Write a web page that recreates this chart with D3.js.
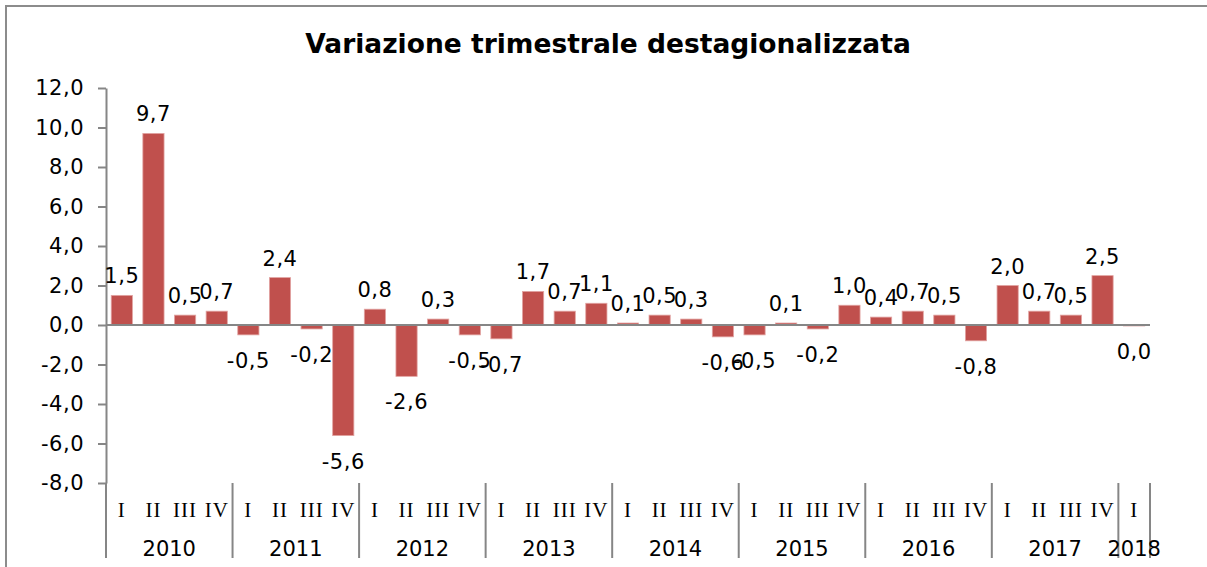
<!DOCTYPE html>
<html>
<head>
<meta charset="utf-8">
<script src="https://cdn.jsdelivr.net/npm/d3@7"></script>
<style>
    body { margin: 0; background: #fff; }
    svg text { fill: #000; }
</style>
</head>
<body>
<svg id="chart"></svg>
<script>
const years = ["2010", "2011", "2012", "2013", "2014", "2015", "2016", "2017", "2018"];
const quarters = ["I", "II", "III", "IV"];
const values = [
    1.5, 9.7, 0.5, 0.7,
    -0.5, 2.4, -0.2, -5.6,
    0.8, -2.6, 0.3, -0.5,
    -0.7, 1.7, 0.7, 1.1,
    0.1, 0.5, 0.3, -0.6,
    -0.5, 0.1, -0.2, 1.0,
    0.4, 0.7, 0.5, -0.8,
    2.0, 0.7, 0.5, 2.5,
    -0.049
];
const yTicks = [-8, -6, -4, -2, 0, 2, 4, 6, 8, 10, 12];

// one entry per quarter, only as many as there are values
const data = [];
years.forEach(y => quarters.forEach(q => {
    if (data.length < values.length) {
        data.push({ key: y + "-" + q, year: y, q: q, value: values[data.length] });
    }
}));

const fmt = v => {
    let s = Math.abs(v).toFixed(1);
    if (v < 0 && s !== "0.0") s = "-" + s;
    return s.replace(".", ",");
};

function drawChart() {
    const width = 1207, height = 567;
    const left = 106, right = 1150, top = 88, bottom = 483;
    const axisColor = "#868686";
    const numFont = "'DejaVu Sans', Verdana, sans-serif";

    const svg = d3.select("#chart").attr("width", width).attr("height", height);

    // outer frame
    svg.append("rect")
        .attr("x", 6).attr("y", 6)
        .attr("width", width + 20).attr("height", height + 20)
        .attr("fill", "none")
        .attr("stroke", "#8c8c8c")
        .attr("stroke-width", 2);

    svg.append("text")
        .attr("x", 608).attr("y", 53)
        .attr("text-anchor", "middle")
        .style("font-family", numFont)
        .style("font-weight", "bold")
        .style("font-size", "26.5px")
        .text("Variazione trimestrale destagionalizzata");

    const x = d3.scaleBand()
        .domain(data.map(d => d.key))
        .range([left, right])
        .paddingInner(0.33)
        .paddingOuter(0.165);

    const xCat = d3.scaleBand()
        .domain(data.map(d => d.key))
        .range([left, right]);

    const y = d3.scaleLinear()
        .domain([-8, 12])
        .range([bottom, top]);

    // bars
    svg.append("g").selectAll("rect")
        .data(data)
        .enter()
        .append("rect")
        .attr("x", d => x(d.key))
        .attr("y", d => y(Math.max(0, d.value)))
        .attr("width", x.bandwidth())
        .attr("height", d => Math.abs(y(d.value) - y(0)))
        .attr("fill", "#C0504D")
        .attr("stroke", "#e2a4a2")
        .attr("stroke-width", 0.8);

    // y axis
    const yAxis = svg.append("g")
        .attr("transform", `translate(${left},0)`)
        .call(d3.axisLeft(y).tickValues(yTicks).tickSize(8).tickSizeOuter(0).tickPadding(14)
            .tickFormat(d => fmt(d)));
    yAxis.select(".domain").attr("stroke", axisColor).attr("stroke-width", 2);
    yAxis.selectAll(".tick line").attr("stroke", axisColor).attr("stroke-width", 2);
    yAxis.selectAll(".tick text")
        .style("font-family", numFont)
        .style("font-size", "21px")
        .style("letter-spacing", "0.5px")
        .attr("fill", "#000");

    // zero line
    svg.append("line")
        .attr("x1", left).attr("x2", right)
        .attr("y1", y(0)).attr("y2", y(0))
        .attr("stroke", axisColor)
        .attr("stroke-width", 2);

    // value labels
    svg.append("g").selectAll("text")
        .data(data)
        .enter()
        .append("text")
        .attr("x", d => x(d.key) + x.bandwidth() / 2)
        .attr("y", d => d.value >= 0 ? y(d.value) - 12 : y(d.value) + 33)
        .attr("text-anchor", "middle")
        .style("font-family", numFont)
        .style("font-size", "21px")
        .style("letter-spacing", "0.5px")
        .text(d => fmt(d.value));

    // category axis: separators, quarters, years
    const catTop = bottom, catBottom = 558;
    const seps = years.filter(yr => data.some(d => d.year === yr))
        .map(yr => xCat(data.find(d => d.year === yr).key));
    seps.push(right);

    svg.append("g").selectAll("line")
        .data(seps)
        .enter()
        .append("line")
        .attr("x1", d => d).attr("x2", d => d)
        .attr("y1", catTop).attr("y2", catBottom)
        .attr("stroke", axisColor)
        .attr("stroke-width", 2);

    svg.append("g").selectAll("text")
        .data(data)
        .enter()
        .append("text")
        .attr("x", d => xCat(d.key) + xCat.bandwidth() / 2)
        .attr("y", 517)
        .attr("text-anchor", "middle")
        .style("font-family", "'Liberation Serif', 'Times New Roman', serif")
        .style("font-size", "21px")
        .style("letter-spacing", "1px")
        .text(d => d.q);

    const yearGroups = d3.groups(data, d => d.year);
    svg.append("g").selectAll("text")
        .data(yearGroups)
        .enter()
        .append("text")
        .attr("x", g => {
            const first = xCat(g[1][0].key);
            const last = xCat(g[1][g[1].length - 1].key) + xCat.bandwidth();
            return (first + last) / 2;
        })
        .attr("y", 556)
        .attr("text-anchor", "middle")
        .style("font-family", numFont)
        .style("font-size", "21px")
        .text(g => g[0]);
}

drawChart();
</script>
</body>
</html>
